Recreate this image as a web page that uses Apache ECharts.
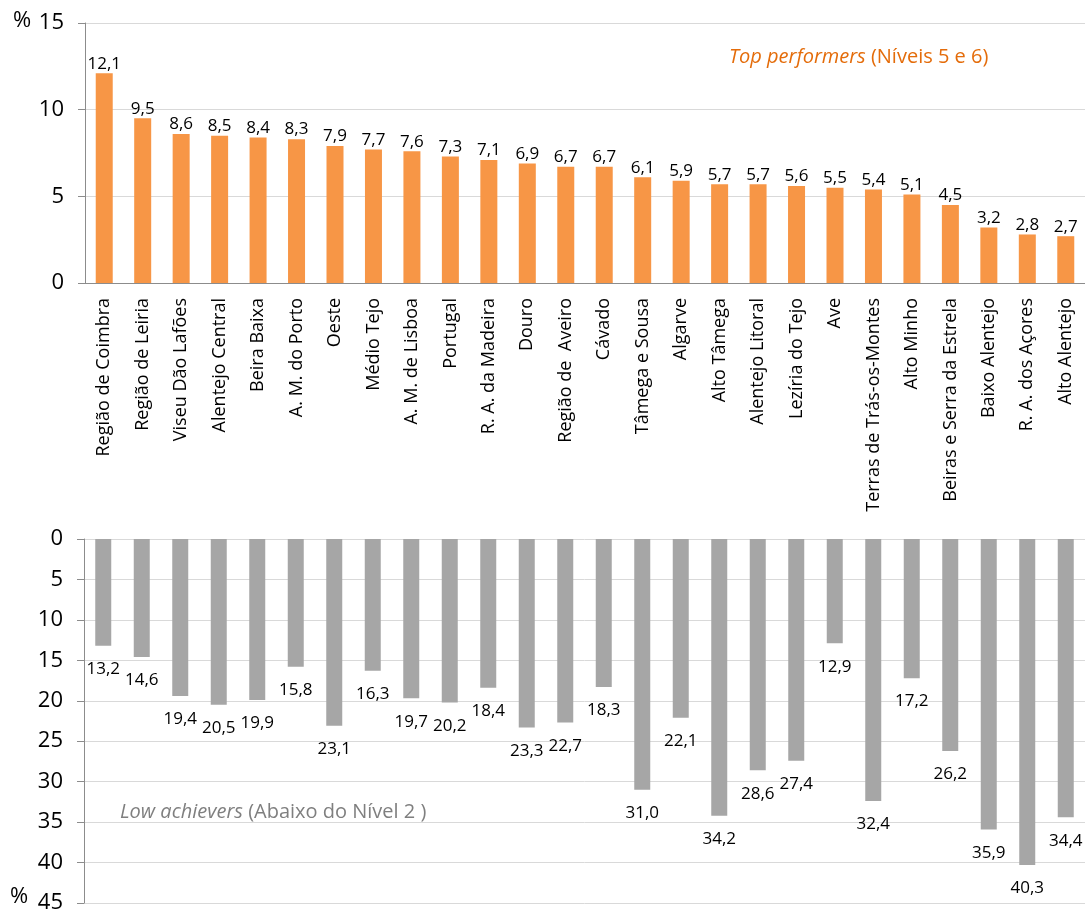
<!DOCTYPE html>
<html><head><meta charset="utf-8">
<script src="https://cdn.jsdelivr.net/npm/echarts@6/dist/echarts.min.js"></script>
<style>html,body{margin:0;padding:0;background:#fff}#c{width:1085px;height:914px}</style>
</head><body><div id="c"></div>
<script>
const categories = ["Região de Coimbra","Região de Leiria","Viseu Dão Lafões","Alentejo Central","Beira Baixa","A. M. do Porto","Oeste","Médio Tejo","A. M. de Lisboa","Portugal","R. A. da Madeira","Douro","Região de  Aveiro","Cávado","Tâmega e Sousa","Algarve","Alto Tâmega","Alentejo Litoral","Lezíria do Tejo","Ave","Terras de Trás-os-Montes","Alto Minho","Beiras e Serra da Estrela","Baixo Alentejo","R. A. dos Açores","Alto Alentejo"];
const topPerformers = [12.1,9.5,8.6,8.5,8.4,8.3,7.9,7.7,7.6,7.3,7.1,6.9,6.7,6.7,6.1,5.9,5.7,5.7,5.6,5.5,5.4,5.1,4.5,3.2,2.8,2.7];
const lowAchievers = [13.2,14.6,19.4,20.5,19.9,15.8,23.1,16.3,19.7,20.2,18.4,23.3,22.7,18.3,31.0,22.1,34.2,28.6,27.4,12.9,32.4,17.2,26.2,35.9,40.3,34.4];
const topTitle = "Top performers";
const topSub = " (Níveis 5 e 6)";
const lowTitle = "Low achievers";
const lowSub = " (Abaixo do Nível 2 )";

const FONT = "Open Sans";
const fmt = v => v.toFixed(1).replace('.', ',');
const chart = echarts.init(document.getElementById('c'), null, {renderer:'canvas'});
chart.setOption({
  animation:false,
  textStyle:{fontFamily:FONT},
  grid:[
    {left:85, right:0, top:23, height:260, containLabel:false},
    {left:84, right:0, top:539, height:367, containLabel:false}
  ],
  xAxis:[
    {gridIndex:0, type:'category', data:categories,
     axisLine:{lineStyle:{color:'#8c8c8c'}}, axisTick:{show:false},
     axisLabel:{rotate:90, color:'#000', fontSize:18, fontFamily:FONT, interval:0, margin:15}},
    {gridIndex:1, type:'category', data:categories, position:'top',
     axisLine:{show:false}, axisTick:{show:false}, axisLabel:{show:false}}
  ],
  yAxis:[
    {gridIndex:0, type:'value', min:0, max:15, interval:5,
     axisLine:{show:true, lineStyle:{color:'#8c8c8c'}},
     axisTick:{show:true, length:7, lineStyle:{color:'#8c8c8c'}},
     splitLine:{lineStyle:{color:'#d9d9d9'}},
     axisLabel:{color:'#000', fontSize:22, fontFamily:FONT, margin:21}},
    {gridIndex:1, type:'value', min:0, max:45, interval:5, inverse:true,
     axisLine:{show:true, lineStyle:{color:'#8c8c8c'}},
     axisTick:{show:true, length:7, lineStyle:{color:'#8c8c8c'}},
     splitLine:{lineStyle:{color:'#d9d9d9'}},
     axisLabel:{color:'#000', fontSize:22, fontFamily:FONT, margin:21}}
  ],
  series:[
    {type:'bar', xAxisIndex:0, yAxisIndex:0, data:topPerformers, barWidth:17,
     itemStyle:{color:'#F79646'},
     label:{show:true, position:'top', distance:1, color:'#000', fontSize:17, fontFamily:FONT, formatter:p=>fmt(p.value)}},
    {type:'bar', xAxisIndex:1, yAxisIndex:1, data:lowAchievers, barWidth:16,
     itemStyle:{color:'#A6A6A6'},
     label:{show:true, position:'bottom', distance:15, color:'#000', fontSize:17, fontFamily:FONT, formatter:p=>fmt(p.value)}}
  ],
  graphic:[
    {type:'text', left:13, top:10, style:{text:'%', fontSize:22, fontFamily:FONT, fill:'#000'}},
    {type:'text', left:10, top:886, style:{text:'%', fontSize:22, fontFamily:FONT, fill:'#000'}},
    {type:'text', left:729, top:47, style:{
      text:'{i|'+topTitle+'}{n|'+topSub+'}',
      rich:{i:{fontStyle:'italic', fontSize:20, fontFamily:FONT, fill:'#E46C0A'},
            n:{fontSize:20, fontFamily:FONT, fill:'#E46C0A'}}}},
    {type:'text', left:120, top:802, style:{
      text:'{i|'+lowTitle+'}{n|'+lowSub+'}',
      rich:{i:{fontStyle:'italic', fontSize:20, fontFamily:FONT, fill:'#7f7f7f'},
            n:{fontSize:20, fontFamily:FONT, fill:'#7f7f7f'}}}}
  ]
});
</script></body></html>
